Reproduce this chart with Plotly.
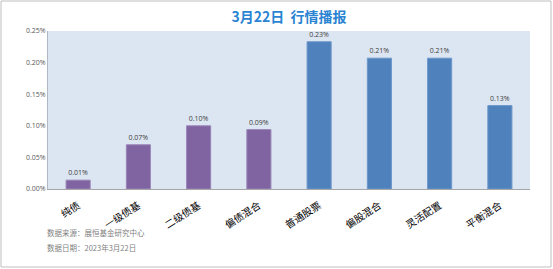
import plotly.graph_objects as go

categories = ["纯债", "一级债基", "二级债基", "偏债混合", "普通股票", "偏股混合", "灵活配置", "平衡混合"]
values = [0.014, 0.070, 0.100, 0.094, 0.233, 0.207, 0.207, 0.132]
colors = ["#8064A2"] * 4 + ["#4F81BD"] * 4
edge_colors = ["#9B86B8"] * 4 + ["#6E98CA"] * 4
y_ticks = [0, 0.05, 0.10, 0.15, 0.20, 0.25]
y_tick_labels = ["0.00%", "0.05%", "0.10%", "0.15%", "0.20%", "0.25%"]
title_text = "3月22日  行情播报"
source_lines = ["数据来源：展恒基金研究中心", "数据日期：2023年3月22日"]

W, H = 553, 269
L, R, T, B = 48, 23, 31, 80
pw, ph = W - L - R, H - T - B

def px_x(p):
    return (p - L) / pw

def px_y(p):
    return (H - B - p) / ph

fig = go.Figure(go.Bar(
    x=categories, y=values,
    marker=dict(color=colors, line=dict(color=edge_colors, width=1)),
    width=0.4,
    text=values,
    texttemplate="%{y:.2f}%",
    textposition="outside",
    textfont=dict(size=7, color="#404040", family="Open Sans, sans-serif"),
    cliponaxis=False,
))

fig.update_layout(
    width=W, height=H,
    margin=dict(l=L, r=R, t=T, b=B, pad=0),
    paper_bgcolor="white",
    plot_bgcolor="#DCE6F2",
    showlegend=False,
    font=dict(family="Noto Sans CJK SC, sans-serif"),
    title=dict(text="<b>" + title_text + "</b>", x=0.5, xref="paper", xanchor="center",
               y=1 - 17 / H, yref="container", yanchor="middle",
               font=dict(size=14, color="#2A84D2", family="Noto Sans CJK SC, sans-serif")),
    xaxis=dict(
        tickangle=-33, tickfont=dict(size=10, color="#000000", family="Noto Sans CJK SC, serif"),
        showline=True, linecolor="#A6A6A6", linewidth=1, showgrid=False,
        ticks="", ticklabelstandoff=6,
    ),
    yaxis=dict(
        range=[0, 0.25], tickvals=y_ticks, ticktext=y_tick_labels,
        tickfont=dict(size=7, color="#595959", family="Open Sans, sans-serif"),
        showline=True, linecolor="#B0B8C8", linewidth=1, showgrid=False, zeroline=False,
        ticks="", ticklen=0,
    ),
    bargap=0.6,
)

fig.add_shape(type="rect", xref="paper", yref="paper",
              x0=px_x(1), x1=px_x(551), y0=px_y(267), y1=px_y(1),
              line=dict(color="#BFBFBF", width=1), fillcolor="rgba(0,0,0,0)", layer="below")

for i, line in enumerate(source_lines):
    fig.add_annotation(text=line, xref="paper", yref="paper",
                       x=px_x(45), y=px_y(232 + 15 * i), xanchor="left", yanchor="middle",
                       showarrow=False, font=dict(size=7.5, color="#7F7F7F", family="Noto Sans CJK SC, sans-serif"))

fig.write_html("out.html")
